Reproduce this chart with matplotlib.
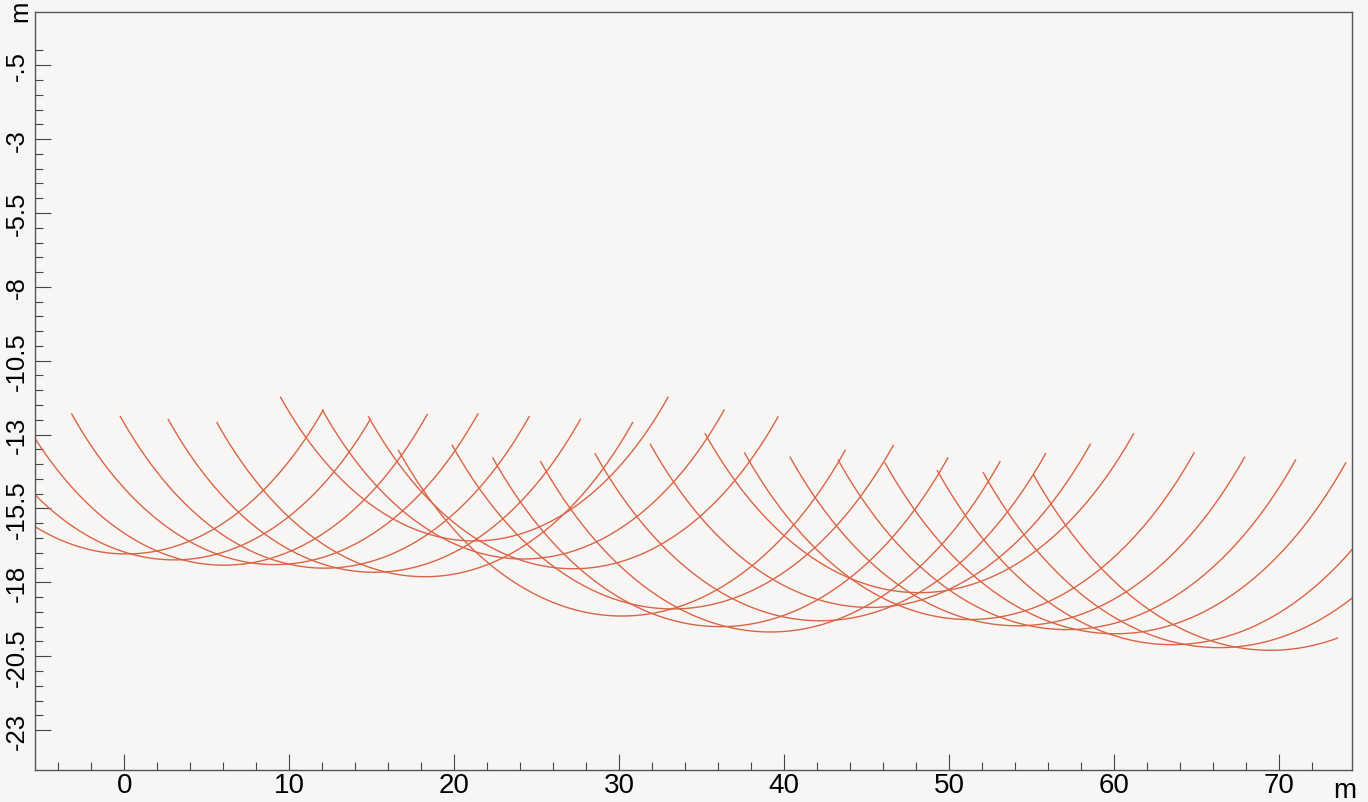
import numpy as np
import matplotlib.pyplot as plt
from matplotlib.ticker import FixedLocator

plt.rcParams['font.family'] = ['Liberation Sans', 'DejaVu Sans']

# Arcos de alcance: centro en la superficie (y = 0), radio = distancia medida (m)
centro_x = [0.13, 3.02, 6.04, 9.12, 12.15, 15.15, 18.21, 21.21, 24.18, 27.21,
            30.15, 33.24, 36.12, 39.15, 42.18, 45.21, 48.18, 51.21, 54.12, 57.12,
            60.06, 63.49, 66.35, 69.45]
radio = [17.04, 17.24, 17.42, 17.40, 17.52, 17.66, 17.81, 16.60, 17.21, 17.54,
         19.14, 18.90, 19.50, 19.68, 19.30, 18.85, 18.35, 19.26, 19.47, 19.60,
         19.74, 20.11, 20.21, 20.30]
# apertura de cada arco a izquierda y derecha de la vertical (grados)
ang_izq = [45, 45, 45, 45, 45, 45, 45, 45, 45, 45, 45, 45,
           45, 45, 45, 45, 45, 45, 45, 45, 45, 45, 45, 45]
ang_der = [44.4, 43.6, 45, 45, 45, 45, 45, 45, 45, 45, 45, 45,
           45, 45, 45, 45, 45, 45, 45, 45, 45, 45, 45, 11.6]

etiquetas_y = ['-.5', '-3', '-5.5', '-8', '-10.5', '-13', '-15.5', '-18', '-20.5', '-23']
valores_y = [-0.5, -3, -5.5, -8, -10.5, -13, -15.5, -18, -20.5, -23]
etiquetas_x = ['0', '10', '20', '30', '40', '50', '60', '70']
valores_x = [0, 10, 20, 30, 40, 50, 60, 70]

fondo = '#f8f6f4'
fig = plt.figure(figsize=(13.68, 8.03), dpi=100, facecolor=fondo)
ax = fig.add_axes([34.5 / 1368, 32 / 803, (1352 - 34.5) / 1368, (771 - 13) / 803])
ax.set_facecolor(fondo)

for xc, r, a1, a2 in zip(centro_x, radio, ang_izq, ang_der):
    t = np.radians(np.linspace(-a1, a2, 200))
    ax.plot(xc + r * np.sin(t), -r * np.cos(t), color='#da6446', lw=1.0)

ax.set_xlim(-5.44, 74.4)
ax.set_ylim(-24.35, 1.30)

ax.xaxis.set_major_locator(FixedLocator(valores_x))
ax.set_xticklabels(etiquetas_x)
ax.xaxis.set_minor_locator(FixedLocator(np.arange(-4, 73, 2)))
ax.yaxis.set_major_locator(FixedLocator(valores_y))
ax.set_yticklabels(etiquetas_y, rotation=90, va='center')
ax.yaxis.set_minor_locator(FixedLocator(np.arange(0, -23.5, -0.5)))

ax.tick_params(axis='x', which='major', direction='in', length=11.3, width=0.8,
               color='#444444', labelsize=20, pad=1.5)
ax.tick_params(axis='x', which='minor', direction='in', length=5.5, width=0.8, color='#444444')
ax.tick_params(axis='y', which='major', direction='in', length=11.5, width=0.8,
               color='#444444', labelsize=18.5, pad=4)
ax.tick_params(axis='y', which='minor', direction='in', length=5.8, width=0.8, color='#444444')

for s in ax.spines.values():
    s.set_color('#555555')
    s.set_linewidth(1.0)

# unidades
fig.text(20 / 1368, 1 - 11 / 803, 'm', rotation=90, ha='center', va='center', fontsize=18.5)
fig.text(1345 / 1368, 1 - 791 / 803, 'm', ha='center', va='center', fontsize=20)

fig.savefig('out.png', dpi=100, facecolor=fondo)
